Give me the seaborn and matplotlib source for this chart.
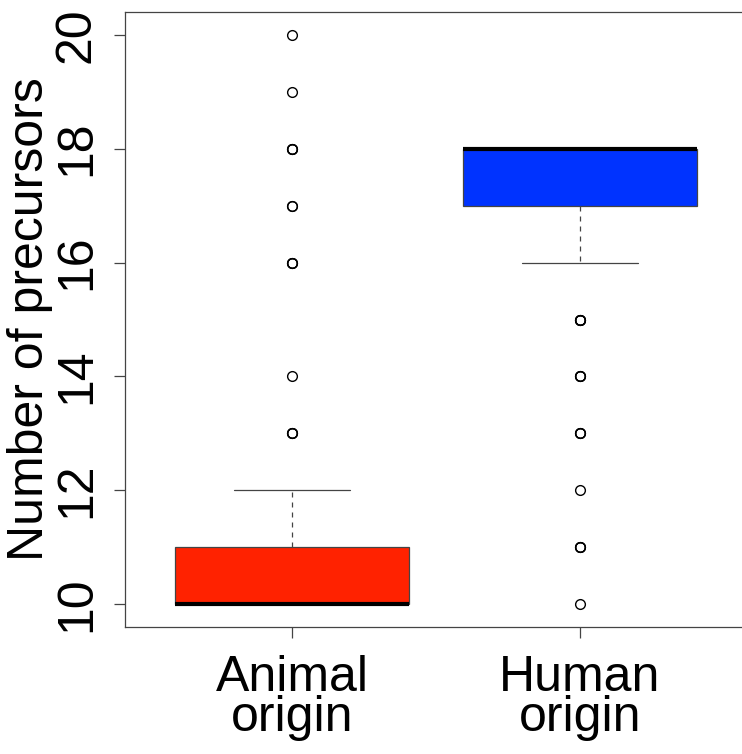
import numpy as np
import pandas as pd
import matplotlib
matplotlib.use("Agg")
import matplotlib.pyplot as plt
import seaborn as sns

categories = ["Animal\norigin", "Human\norigin"]
animal_values = [10, 11, 12, 13, 14, 16, 17, 18, 19, 20]
animal_counts = [60, 25, 8, 3, 1, 3, 2, 3, 1, 1]
human_values = [10, 11, 12, 13, 14, 15, 16, 17, 18]
human_counts = [1, 3, 1, 3, 3, 4, 10, 30, 60]
box_colors = ["#FF2200", "#0033FF"]
y_ticks = [10, 12, 14, 16, 18, 20]
y_label = "Number of precursors"

animal = np.repeat(animal_values, animal_counts)
human = np.repeat(human_values, human_counts)
df = pd.DataFrame({
    "group": [categories[0]] * len(animal) + [categories[1]] * len(human),
    "value": np.concatenate([animal, human]),
})

sns.set_style("ticks")
plt.rcParams["font.family"] = ["Liberation Sans", "DejaVu Sans"]
plt.rcParams["text.color"] = "black"
plt.rcParams["axes.labelcolor"] = "black"
plt.rcParams["xtick.labelcolor"] = "black"
plt.rcParams["ytick.labelcolor"] = "black"

fig = plt.figure(figsize=(7.42, 7.54), dpi=100)
ax = fig.add_axes([125 / 742, 1 - 627 / 754, 1 - 125 / 742, 615 / 754])

line_c = "#444444"
sns.boxplot(
    data=df, x="group", y="value", hue="group", order=categories,
    hue_order=categories, palette=box_colors, saturation=1, legend=False, ax=ax,
    width=0.81, whis=1.5, linecolor=line_c, linewidth=0.9,
    medianprops={"color": "black", "linewidth": 3},
    whiskerprops={"color": line_c, "linewidth": 0.9, "linestyle": (0, (4, 4))},
    capprops={"color": line_c, "linewidth": 0.9},
    flierprops={"marker": "o", "markerfacecolor": "none",
                "markeredgecolor": "black", "markersize": 7,
                "markeredgewidth": 1.0},
    capwidths=0.405,
)

ax.set_xlim(-0.58, 1.5625)
ax.set_ylim(9.6, 20.4)
ax.set_yticks(y_ticks)
ax.set_yticklabels([str(t) for t in y_ticks], rotation=90, va="center")
ax.set_xlabel("")
ax.set_ylabel(y_label, fontsize=36, labelpad=1, color="black")

for lab in ax.get_xticklabels():
    lab.set_linespacing(0.85)

ax.tick_params(axis="both", labelsize=36, length=8, width=0.9,
               color=line_c, labelcolor="black", direction="out")
ax.tick_params(axis="x", pad=12)
ax.tick_params(axis="y", pad=10)

for s in ["left", "top", "bottom"]:
    ax.spines[s].set_visible(True)
    ax.spines[s].set_color(line_c)
    ax.spines[s].set_linewidth(0.9)
ax.spines["right"].set_visible(False)

fig.savefig("out.png", dpi=100)
